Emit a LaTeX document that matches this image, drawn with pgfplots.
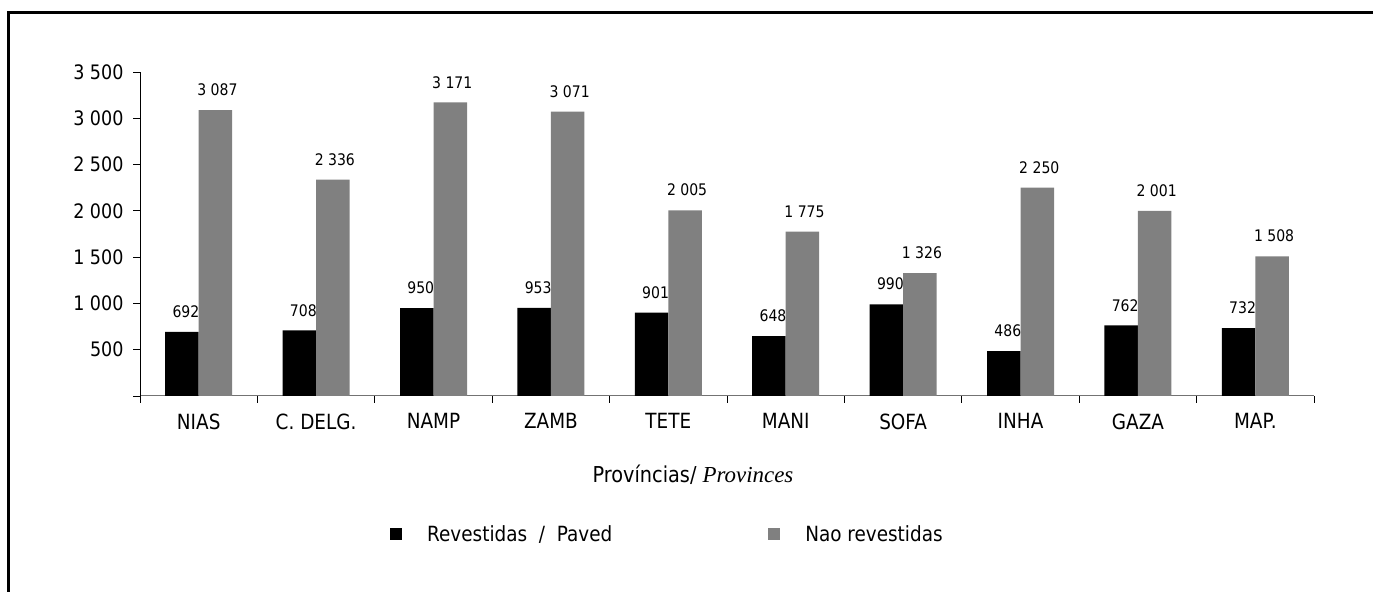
\documentclass[border=0pt]{standalone}
\usepackage{pgfplots}
\pgfplotsset{compat=1.18}
\usepackage{fontspec}
\setmainfont{DejaVu Sans}[FakeStretch=0.88]
\newfontfamily\timesf{Liberation Serif}
\definecolor{bargray}{HTML}{808080}
\begin{document}
\begin{tikzpicture}[x=1bp,y=1bp]
\useasboundingbox (0,0) rectangle (1373,592);
\draw[line width=2.5bp] (8.5,-10) -- (8.5,579.5) -- (1390,579.5);
\begin{axis}[
  at={(140bp,196bp)}, anchor=south west,
  scale only axis, width=1174bp, height=324bp,
  xmin=-0.5, xmax=9.5, ymin=0, ymax=3500,
  axis x line*=bottom, axis y line*=left,
  x axis line style={draw=black!55, line width=1bp},
  y axis line style={draw=black, line width=1bp},
  ytick={0,500,1000,1500,2000,2500,3000,3500},
  yticklabels={{},500,1 000,1 500,2 000,2 500,3 000,3 500},
  xtick={0,1,2,3,4,5,6,7,8,9},
  xticklabels={NIAS,C. DELG.,NAMP,ZAMB,TETE,MANI,SOFA,INHA,GAZA,MAP.},
  minor xtick={-0.5,0.5,1.5,2.5,3.5,4.5,5.5,6.5,7.5,8.5,9.5},
  major x tick style={draw=none},
  tick align=outside,
  major tick length=7bp, minor tick length=7bp,
  tick style={black, line width=0.8bp},
  yticklabel style={font=\fontsize{20}{24}\selectfont, xshift=-6bp},
  xticklabel style={font=\fontsize{21}{24}\selectfont, yshift=-7bp},
  ybar=0pt, bar width=33.5bp,
  /pgf/number format/1000 sep={\ },
  /pgf/number format/assume math mode=true,
  nodes near coords,
  every node near coord/.append style={font=\fontsize{16}{18}\selectfont, anchor=south, inner sep=0pt, yshift=14bp},
  clip=false,
  legend columns=2,
  legend image code/.code={\fill[#1] (0bp,-6bp) rectangle (12bp,6bp); \path[draw=none,fill=none] (0bp,0bp) -- (37bp,0bp);},
  legend style={draw=none, fill=none, inner sep=0pt, nodes={inner sep=0pt},
    at={(axis description cs:0.2129,-0.426)}, anchor=west,
    font=\fontsize{21}{24}\selectfont,
    /tikz/every even column/.append style={column sep=156bp}},
]
\addplot[fill=black, draw=none, every node near coord/.append style={xshift=4bp}] coordinates {
(0,692) (1,708) (2,950) (3,953) (4,901) (5,648) (6,990) (7,486) (8,762) (9,732)};
\addplot[fill=bargray, draw=none, every node near coord/.append style={xshift=2bp}] coordinates {
(0,3087) (1,2336) (2,3171) (3,3071) (4,2005) (5,1775) (6,1326) (7,2250) (8,2001) (9,1508)};
\legend{Revestidas~~/~~Paved, Nao revestidas}
\node[anchor=center, inner sep=0pt, font=\fontsize{22}{26}\selectfont] at (axis description cs:0.471,-0.244) {Províncias/ {\timesf\itshape\fontsize{23}{26}\selectfont Provinces}};
\end{axis}
\end{tikzpicture}
\end{document}
